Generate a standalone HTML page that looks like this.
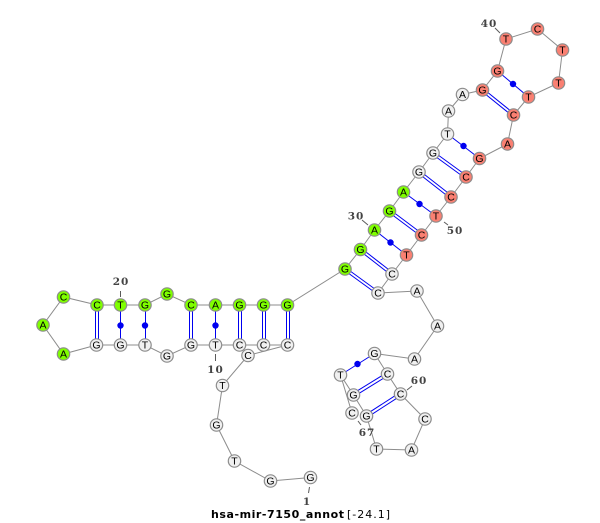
<!DOCTYPE html>
<html><head><meta charset="utf-8"><style>html,body{margin:0;padding:0;background:#fff}svg{display:block}</style></head>
<body>
<svg xmlns="http://www.w3.org/2000/svg" width="600" height="523" viewBox="0 0 600 523">
<rect width="600" height="523" fill="#fff"/>
<polyline fill="none" stroke="#8c8c8c" stroke-width="1" points="310.5,477.5 270.5,481 234.5,461 216.5,425 222.5,385.5 248,355.5 287.5,345 263.5,345 239.5,345 215.5,345 191,345 167,356 145,345 120.5,345 96.5,345 63.5,354 43,325 63.5,297 97,305 120.5,305 145,305 167,294 191,305 215.5,305 239.5,305 263.5,305 287.5,305 345,269 360.5,249.5 374.5,230 389.5,211 403.5,192 419,172 433,153 447.5,134 448.5,111 462.5,94.5 482.5,90 497.5,71 506,39 537.5,29 562.5,50 558.5,83 528.5,97 513.5,115 507.5,144 479.5,158.5 466,177 451,197 436,216 421.5,235 406.5,255 392,274 378,293 417,291 437.5,326 414.5,359 374.5,353.5 387.5,374 400.5,394 425,419 411.5,450 376.5,449 366.5,416 353.5,395 340.5,375 352,413"/>
<g stroke="#5a5a5a" stroke-width="1">
<line x1="120.5" y1="291" x2="120.5" y2="297"/><line x1="215.5" y1="354" x2="215.5" y2="361"/><line x1="309.5" y1="487" x2="308.5" y2="493"/><line x1="362" y1="220" x2="368" y2="225"/><line x1="495" y1="28" x2="500" y2="33"/><line x1="444" y1="222" x2="448" y2="225"/><line x1="407" y1="390" x2="412" y2="386"/><line x1="358" y1="421" x2="361" y2="425"/>
</g>
<g stroke="#0000f0" stroke-width="1" fill="none">
<path d="M95.5 305V345M98.5 305V345M189.5 305V345M192.5 305V345M238.5 305V345M241.5 305V345M262.5 305V345M265.5 305V345M286.5 305V345M289.5 305V345"/>
<path d="M120.5 305V345M145.5 305V345M215.5 305V345"/>
<path d="M344 270L377 294M346 268L379 292M359.5 250.5L391 275M361.5 248.5L393 273M388.5 212L420.5 236M390.5 210L422.5 234M418 173L450 198M420 171L452 196M432 154L465 178M434 152L467 176M481.5 91L512.5 116M483.5 89L514.5 114"/>
<path d="M354.3 396.3L388.3 375.3M352.7 393.7L386.7 372.7M367.3 417.3L401.3 395.3M365.7 414.7L399.7 392.7"/>
<path d="M374.5 230L406.5 255M403.5 192L436 216M447.5 134L479.5 158.5M497.5 71L528.5 97M340.5 375L374.5 353.5"/>
</g>
<g fill="#0000f0">
<circle cx="120.5" cy="325.5" r="3.2"/><circle cx="145" cy="325.5" r="3.2"/><circle cx="215.5" cy="325.5" r="3.2"/><circle cx="390.5" cy="242.5" r="3.2"/><circle cx="419.5" cy="204" r="3.2"/><circle cx="463.5" cy="146" r="3.2"/><circle cx="513" cy="84" r="3.2"/><circle cx="357.5" cy="364" r="3.2"/>
</g>
<g id="nodes" stroke="#8c8c8c" stroke-width="1.2" font-family="'Liberation Sans',sans-serif" font-size="10.5">
<g fill="#f0f0f0">
<circle cx="310.5" cy="477.5" r="6.2"/><circle cx="270.5" cy="481" r="6.2"/><circle cx="234.5" cy="461" r="6.2"/><circle cx="216.5" cy="425" r="6.2"/><circle cx="222.5" cy="385.5" r="6.2"/><circle cx="239.5" cy="345" r="6.2"/><circle cx="263.5" cy="345" r="6.2"/><circle cx="287.5" cy="345" r="6.2"/><circle cx="248" cy="355.5" r="6.2"/><circle cx="215.5" cy="345" r="6.2"/><circle cx="191" cy="345" r="6.2"/><circle cx="167" cy="356" r="6.2"/><circle cx="145" cy="345" r="6.2"/><circle cx="120.5" cy="345" r="6.2"/><circle cx="96.5" cy="345" r="6.2"/>
<circle cx="433" cy="153" r="6.2"/><circle cx="419" cy="172" r="6.2"/><circle cx="447.5" cy="134" r="6.2"/><circle cx="448.5" cy="111" r="6.2"/><circle cx="462.5" cy="94.5" r="6.2"/>
<circle cx="392" cy="274" r="6.2"/><circle cx="378" cy="293" r="6.2"/><circle cx="417" cy="291" r="6.2"/><circle cx="437.5" cy="326" r="6.2"/><circle cx="414.5" cy="359" r="6.2"/><circle cx="374.5" cy="353.5" r="6.2"/><circle cx="387.5" cy="374" r="6.2"/><circle cx="400.5" cy="394" r="6.2"/><circle cx="425" cy="419" r="6.2"/><circle cx="411.5" cy="450" r="6.2"/><circle cx="376.5" cy="449" r="6.2"/><circle cx="352" cy="413" r="6.2"/><circle cx="366.5" cy="416" r="6.2"/><circle cx="353.5" cy="395" r="6.2"/><circle cx="340.5" cy="375" r="6.2"/>
</g>
<g fill="#7fff00">
<circle cx="63.5" cy="354" r="6.2"/><circle cx="43" cy="325" r="6.2"/><circle cx="63.5" cy="297" r="6.2"/><circle cx="97" cy="305" r="6.2"/><circle cx="120.5" cy="305" r="6.2"/><circle cx="145" cy="305" r="6.2"/><circle cx="167" cy="294" r="6.2"/><circle cx="191" cy="305" r="6.2"/><circle cx="215.5" cy="305" r="6.2"/><circle cx="239.5" cy="305" r="6.2"/><circle cx="263.5" cy="305" r="6.2"/><circle cx="287.5" cy="305" r="6.2"/><circle cx="345" cy="269" r="6.2"/><circle cx="360.5" cy="249.5" r="6.2"/><circle cx="374.5" cy="230" r="6.2"/><circle cx="389.5" cy="211" r="6.2"/><circle cx="403.5" cy="192" r="6.2"/>
</g>
<g fill="#fa8072">
<circle cx="482.5" cy="90" r="6.2"/><circle cx="497.5" cy="71" r="6.2"/><circle cx="506" cy="39" r="6.2"/><circle cx="537.5" cy="29" r="6.2"/><circle cx="562.5" cy="50" r="6.2"/><circle cx="558.5" cy="83" r="6.2"/><circle cx="528.5" cy="97" r="6.2"/><circle cx="513.5" cy="115" r="6.2"/><circle cx="507.5" cy="144" r="6.2"/><circle cx="479.5" cy="158.5" r="6.2"/><circle cx="466" cy="177" r="6.2"/><circle cx="451" cy="197" r="6.2"/><circle cx="436" cy="216" r="6.2"/><circle cx="421.5" cy="235" r="6.2"/><circle cx="406.5" cy="255" r="6.2"/>
</g>
<g fill="#000" stroke="none" text-anchor="middle">
<text x="310.5" y="481">G</text><text x="270.5" y="484.5">G</text><text x="234.5" y="464.5">T</text><text x="216.5" y="428.5">G</text><text x="222.5" y="389">T</text><text x="239.5" y="348.5">C</text><text x="263.5" y="348.5">C</text><text x="287.5" y="348.5">C</text><text x="248" y="359">C</text><text x="215.5" y="348.5">T</text><text x="191" y="348.5">G</text><text x="167" y="359.5">G</text><text x="145" y="348.5">T</text><text x="120.5" y="348.5">G</text><text x="96.5" y="348.5">G</text>
<text x="63.5" y="357.5">A</text><text x="43" y="328.5">A</text><text x="63.5" y="300.5">C</text><text x="97" y="308.5">C</text><text x="120.5" y="308.5">T</text><text x="145" y="308.5">G</text><text x="167" y="297.5">G</text><text x="191" y="308.5">C</text><text x="215.5" y="308.5">A</text><text x="239.5" y="308.5">G</text><text x="263.5" y="308.5">G</text><text x="287.5" y="308.5">G</text>
<text x="345" y="272.5">G</text><text x="360.5" y="253">G</text><text x="374.5" y="233.5">A</text><text x="389.5" y="214.5">G</text><text x="403.5" y="195.5">A</text><text x="419" y="175.5">G</text><text x="433" y="156.5">G</text><text x="447.5" y="137.5">T</text><text x="448.5" y="114.5">A</text><text x="462.5" y="98">A</text><text x="482.5" y="93.5">G</text><text x="497.5" y="74.5">G</text><text x="506" y="42.5">T</text><text x="537.5" y="32.5">C</text><text x="562.5" y="53.5">T</text><text x="558.5" y="86.5">T</text><text x="528.5" y="100.5">T</text><text x="513.5" y="118.5">C</text><text x="507.5" y="147.5">A</text><text x="479.5" y="162">G</text><text x="466" y="180.5">C</text><text x="451" y="200.5">C</text><text x="436" y="219.5">T</text><text x="421.5" y="238.5">C</text><text x="406.5" y="258.5">T</text><text x="392" y="277.5">C</text><text x="378" y="296.5">C</text>
<text x="417" y="294.5">A</text><text x="437.5" y="329.5">A</text><text x="414.5" y="362.5">A</text><text x="374.5" y="357">G</text><text x="387.5" y="377.5">C</text><text x="400.5" y="397.5">C</text><text x="425" y="422.5">C</text><text x="411.5" y="453.5">A</text><text x="376.5" y="452.5">T</text><text x="352" y="416.5">C</text><text x="366.5" y="419.5">G</text><text x="353.5" y="398.5">G</text><text x="340.5" y="378.5">T</text>
</g>
<g fill="#444" stroke="none" text-anchor="middle" font-family="'DejaVu Serif','Liberation Serif',serif" font-weight="bold" font-size="10.5" letter-spacing="1">
<text x="121" y="285">20</text><text x="215.5" y="373">10</text><text x="307" y="505">1</text><text x="356" y="219.5">30</text><text x="489" y="27">40</text><text x="455" y="234">50</text><text x="419" y="384">60</text><text x="367" y="436">67</text>
</g>
</g>
<text x="211" y="518" textLength="133" lengthAdjust="spacing" font-family="'DejaVu Sans','Liberation Sans',sans-serif" font-weight="bold" font-size="11" fill="#000">hsa-mir-7150_annot</text>
<text x="347" y="518" textLength="43" lengthAdjust="spacing" font-family="'DejaVu Sans','Liberation Sans',sans-serif" font-size="11" fill="#000">[-24.1]</text>
</svg>
</body></html>
